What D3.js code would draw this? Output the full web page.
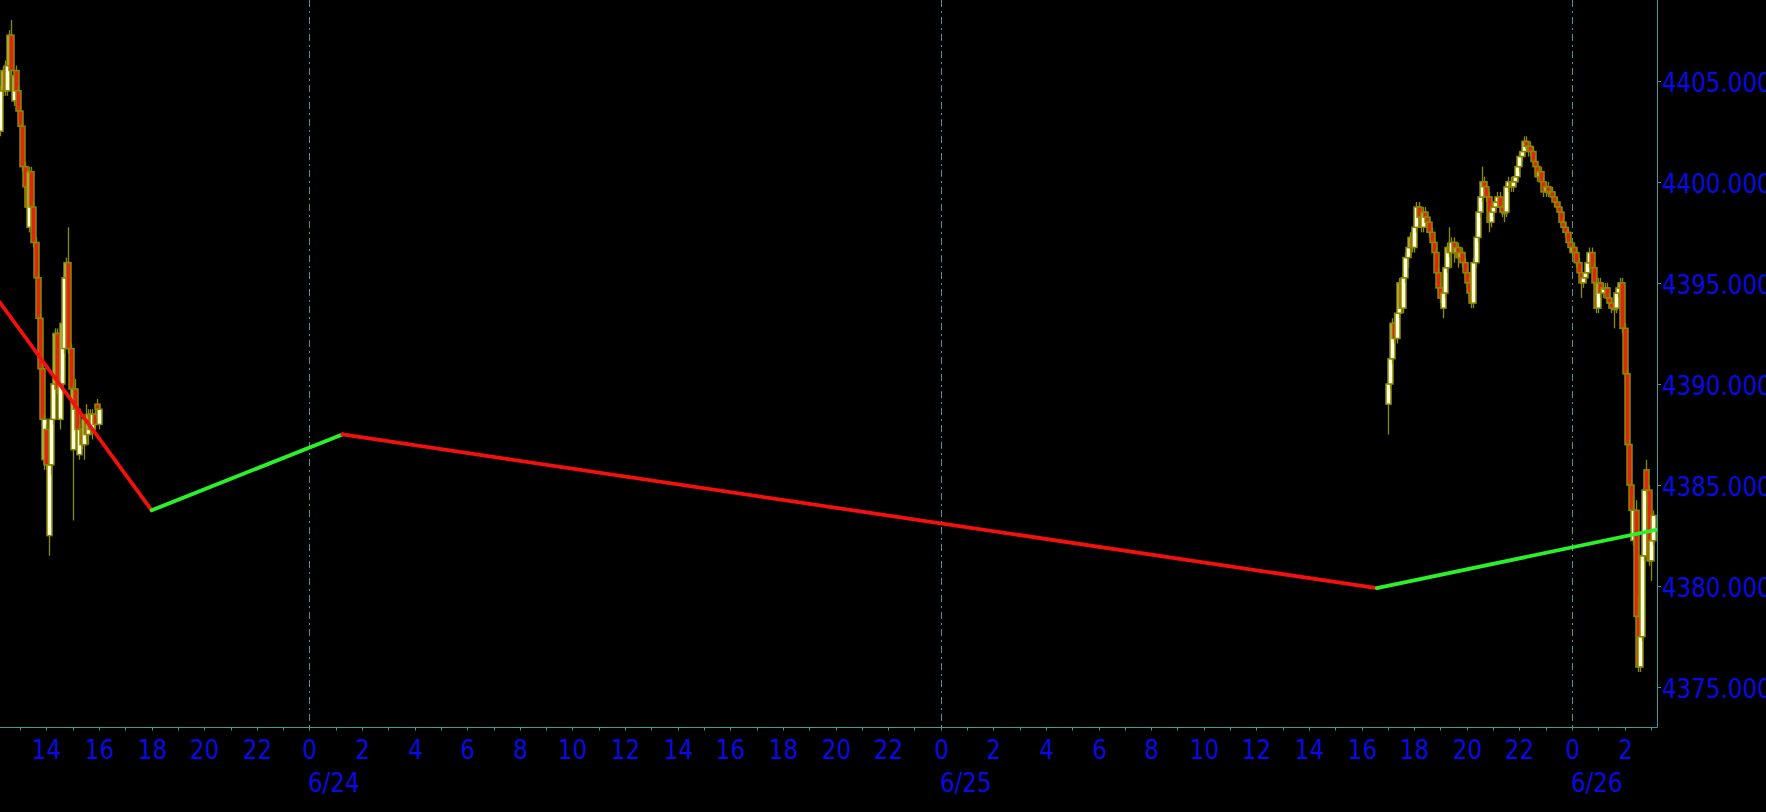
<!DOCTYPE html>
<html><head><meta charset="utf-8">
<script src="https://cdn.jsdelivr.net/npm/d3@7"></script>
<style>html,body{margin:0;padding:0;background:#000;overflow:hidden}</style>
</head><body>
<svg id="c" width="1766" height="812"></svg>
<script>
// ---- data ----
const session1Start = "2023-06-23T12:15:00Z";
const session2Start = "2023-06-25T17:00:00Z";
const barMinutes = 5;
// [open, high, low, close]
const session1 = [
[4402.50,4404.75,4402.25,4404.50],[4404.50,4405.75,4404.25,4405.50],[4405.50,4406.00,4404.25,4404.50],
[4404.50,4406.00,4404.25,4405.75],[4405.75,4407.50,4405.50,4407.25],[4407.25,4408.00,4405.25,4405.50],
[4404.00,4405.50,4403.75,4405.25],[4405.50,4405.75,4404.25,4404.50],[4404.50,4404.75,4403.25,4403.50],
[4403.50,4403.75,4402.50,4402.75],[4402.75,4403.00,4400.50,4400.75],[4400.75,4401.00,4399.50,4399.75],
[4399.75,4400.00,4398.50,4398.75],[4397.75,4400.75,4397.50,4400.50],[4400.50,4400.75,4398.50,4398.75],
[4398.75,4399.00,4396.75,4397.00],[4397.00,4397.25,4395.00,4395.25],[4395.25,4395.50,4393.00,4393.25],
[4393.25,4393.50,4390.50,4390.75],[4390.75,4391.00,4388.00,4388.25],[4386.25,4388.50,4385.75,4388.25],
[4387.75,4388.00,4385.75,4386.00],[4382.50,4386.25,4381.50,4386.00],[4386.00,4388.50,4385.50,4388.25],
[4388.25,4390.25,4388.00,4390.00],[4390.00,4392.75,4389.75,4392.50],[4392.50,4392.75,4389.50,4389.75],
[4388.25,4390.25,4387.75,4390.00],[4390.00,4393.25,4389.75,4393.00],[4391.75,4395.50,4391.50,4395.25],
[4395.25,4396.25,4394.75,4396.00],[4396.00,4397.75,4391.50,4391.75],[4391.75,4392.00,4389.50,4389.75],
[4386.75,4390.00,4383.25,4389.75],[4389.75,4390.25,4388.50,4388.75],[4388.75,4389.00,4387.50,4387.75],
[4386.50,4388.00,4386.25,4387.75],[4387.75,4388.25,4386.75,4387.00],[4387.00,4388.50,4386.25,4388.25],
[4388.25,4389.00,4387.25,4387.50],[4387.50,4388.75,4387.00,4388.50],[4388.50,4388.75,4387.50,4387.75],
[4387.75,4388.75,4387.25,4388.50],[4388.50,4388.75,4387.75,4388.00],[4389.00,4389.25,4388.50,4388.75],
[4388.00,4389.00,4387.75,4388.75]
];
const session2 = [
[4389.00,4390.50,4387.50,4390.00],[4390.00,4391.75,4389.75,4391.25],[4391.25,4393.25,4391.00,4393.00],
[4393.00,4393.50,4392.00,4392.25],[4392.25,4393.75,4392.00,4393.50],[4393.50,4395.25,4393.25,4395.00],
[4395.00,4395.25,4393.50,4393.75],[4393.75,4395.50,4393.50,4395.25],[4395.25,4396.50,4395.00,4396.25],
[4396.25,4397.00,4395.75,4396.75],[4396.75,4397.50,4396.25,4397.25],[4397.25,4397.50,4396.50,4396.75],
[4396.75,4398.00,4396.50,4397.75],[4397.75,4399.00,4397.50,4398.75],[4398.75,4399.00,4398.00,4398.25],
[4398.25,4398.50,4397.50,4397.75],[4397.75,4398.75,4397.50,4398.50],[4398.50,4398.75,4398.00,4398.25],
[4398.25,4398.50,4397.75,4398.00],[4398.00,4398.25,4397.25,4397.50],[4397.50,4397.75,4396.75,4397.00],
[4397.00,4397.25,4396.25,4396.50],[4396.50,4396.75,4395.25,4395.50],[4395.50,4395.75,4394.50,4394.75],
[4394.75,4395.00,4394.00,4394.25],[4393.75,4394.75,4393.25,4394.50],[4394.50,4396.00,4394.25,4395.75],
[4395.75,4397.00,4395.50,4396.75],[4396.75,4397.75,4396.25,4396.50],[4396.50,4397.25,4395.75,4397.00],
[4397.00,4397.25,4396.00,4396.50],[4396.50,4397.00,4396.25,4396.75],[4396.75,4397.00,4395.75,4396.25],
[4396.25,4396.75,4396.00,4396.50],[4396.50,4396.75,4395.75,4396.00],[4396.00,4396.25,4395.25,4395.50],
[4395.50,4395.75,4394.75,4395.00],[4395.00,4395.25,4394.25,4394.50],[4394.50,4394.75,4393.75,4394.00],
[4394.00,4396.25,4393.75,4396.00],[4396.00,4397.50,4395.75,4397.25],[4397.25,4398.75,4397.00,4398.50],
[4398.50,4399.50,4398.25,4399.25],[4399.25,4400.75,4399.00,4400.00],[4400.00,4400.25,4399.50,4399.75],
[4399.75,4400.00,4399.00,4399.25],[4399.25,4399.50,4397.50,4398.00],[4398.00,4398.75,4397.75,4398.50],
[4398.50,4399.00,4398.25,4398.75],[4398.75,4399.25,4398.50,4399.00],[4399.00,4399.50,4398.75,4399.25],
[4399.25,4399.50,4398.50,4398.75],[4398.75,4399.00,4398.25,4398.50],[4398.50,4398.75,4398.00,4398.50],
[4398.50,4400.00,4398.25,4399.75],[4399.75,4400.25,4399.50,4400.00],[4400.00,4400.25,4399.50,4399.75],
[4399.75,4400.25,4399.50,4400.00],[4400.00,4400.50,4399.75,4400.25],[4400.25,4401.00,4400.00,4400.75],
[4400.75,4401.50,4400.50,4401.25],[4401.25,4401.75,4401.00,4401.50],[4401.50,4402.25,4401.25,4402.00],
[4402.00,4402.25,4401.50,4401.75],[4401.75,4402.00,4401.25,4401.75],[4401.75,4402.00,4401.25,4401.50],
[4401.50,4401.75,4400.75,4401.00],[4401.00,4401.25,4400.50,4400.75],[4400.75,4401.00,4400.00,4400.25],
[4400.25,4400.75,4400.00,4400.50],[4400.50,4400.75,4399.75,4400.00],[4400.00,4400.25,4399.25,4399.50],
[4399.50,4400.00,4399.25,4399.75],[4399.75,4400.00,4399.25,4399.50],[4399.50,4399.75,4399.25,4399.50],
[4399.50,4399.75,4399.00,4399.25],[4399.25,4399.50,4398.75,4399.00],[4399.00,4399.25,4398.50,4398.75],
[4398.75,4399.00,4398.25,4398.50],[4398.50,4398.75,4397.75,4398.00],[4398.00,4398.25,4397.50,4397.75],
[4397.75,4398.00,4397.25,4397.50],[4397.50,4397.75,4396.75,4397.00],[4397.00,4397.25,4396.50,4396.75],
[4396.50,4397.00,4396.25,4396.75],[4396.75,4397.00,4396.25,4396.50],[4396.50,4396.75,4395.75,4396.00],
[4396.00,4396.25,4395.25,4395.50],[4395.50,4395.75,4394.25,4395.00],[4395.00,4395.50,4394.75,4395.25],
[4395.25,4395.75,4395.00,4395.50],[4395.50,4396.25,4395.25,4396.00],[4396.00,4396.75,4395.75,4396.50],
[4396.50,4396.75,4395.50,4395.75],[4395.75,4396.00,4394.75,4395.00],[4395.00,4395.25,4393.50,4393.75],
[4393.75,4395.25,4393.50,4395.00],[4395.00,4395.25,4394.25,4394.50],[4394.50,4395.00,4394.25,4394.75],
[4394.75,4395.00,4394.50,4394.75],[4394.75,4395.00,4394.00,4394.25],[4394.25,4394.50,4393.75,4394.00],
[4394.00,4394.25,4393.50,4393.75],[4393.75,4394.00,4392.75,4393.75],[4393.75,4394.75,4393.50,4394.50],
[4394.50,4395.00,4394.25,4394.75],[4394.75,4395.25,4394.50,4395.00],[4395.00,4395.25,4392.50,4392.75],
[4392.75,4393.00,4390.25,4390.50],[4390.50,4390.75,4386.75,4387.00],[4387.00,4387.25,4384.75,4385.00],
[4385.00,4385.25,4383.50,4383.75],[4382.25,4384.50,4382.00,4383.75],[4383.75,4384.25,4378.25,4378.50],
[4378.50,4379.50,4375.75,4376.00],[4376.00,4377.75,4375.75,4377.50],[4377.50,4381.75,4377.25,4381.50],
[4381.50,4385.00,4381.25,4384.75],[4385.75,4386.25,4384.50,4384.75],[4384.75,4385.00,4381.00,4381.25],
[4381.25,4382.50,4380.25,4382.25],[4382.25,4383.75,4382.00,4383.50]
];
const zigzagTimes = ["2023-06-23T10:00:00Z","2023-06-23T18:00:00Z","2023-06-24T01:15:00Z","2023-06-25T16:35:00Z","2023-06-26T03:15:00Z"];
const zigzagValues = [4398.00, 4383.75, 4387.50, 4379.90, 4382.80];
const priceTicks = [4375, 4380, 4385, 4390, 4395, 4400, 4405];
const dayLabels = ["6/24", "6/25", "6/26"];

// ---- layout / style ----
const W = 1766, H = 812, plotR = 1657, plotB = 727;
const axisColor = "#3c9a9a", textColor = "#0a0ae6";
const olive = "#8a8a00", upFill = "#ffffe0", downFill = "#e42412";
const fontFam = "'DejaVu Sans',Verdana,sans-serif";

const svg = d3.select("#c");
svg.append("rect").attr("width", W).attr("height", H).attr("fill", "#000");

const x = d3.scaleUtc()
  .domain([new Date(Date.UTC(2023,5,23,12,14)), new Date(Date.UTC(2023,5,26,3,14))])
  .range([0, plotR]);
const y = d3.scaleLinear().domain([4375, 4405]).range([687.2, 80.7]);

svg.append("clipPath").attr("id","clip").append("rect")
  .attr("x",0).attr("y",0).attr("width",plotR).attr("height",plotB);

// day separator lines
const days = dayLabels.map((d,i)=> new Date(Date.UTC(2023,5,24+i)));
svg.append("g").selectAll("line").data(days).join("line")
  .attr("x1", d=>Math.round(x(d))+0.5).attr("x2", d=>Math.round(x(d))+0.5)
  .attr("y1", 0).attr("y2", plotB)
  .attr("stroke", axisColor).attr("stroke-width",1)
  .attr("stroke-dasharray","7,4,2,4");

// candles
function bars(start, rows){
  const t0 = new Date(start).getTime();
  return rows.map((r,i)=>({t:new Date(t0 + i*barMinutes*60000), o:r[0], h:r[1], l:r[2], c:r[3]}));
}
const allBars = bars(session1Start, session1).concat(bars(session2Start, session2));
const cg = svg.append("g").attr("clip-path","url(#clip)");
allBars.forEach(b=>{
  const cx = Math.round(x(b.t));
  cg.append("line").attr("x1",cx+0.5).attr("x2",cx+0.5)
    .attr("y1",y(b.h)).attr("y2",y(b.l)).attr("stroke",olive).attr("stroke-width",1.3);
  const top = y(Math.max(b.o,b.c)), bot = y(Math.min(b.o,b.c));
  cg.append("rect").attr("x",cx-2).attr("y",top).attr("width",5)
    .attr("height",Math.max(1.5,bot-top))
    .attr("fill", b.c>=b.o ? upFill : downFill)
    .attr("stroke",olive).attr("stroke-width",1.5);
});

// zigzag
const zz = zigzagTimes.map((t,i)=>({t:new Date(t), v:zigzagValues[i]}));
const zg = svg.append("g").attr("clip-path","url(#clip)");
for(let i=1;i<zz.length;i++){
  const a = zz[i-1], b = zz[i];
  zg.append("line").attr("x1",x(a.t)).attr("y1",y(a.v)).attr("x2",x(b.t)).attr("y2",y(b.v))
    .attr("stroke", b.v < a.v ? "#f51010" : "#2af22a").attr("stroke-width",3.8)
    .attr("stroke-linecap","round");
}

// axes lines
svg.append("line").attr("x1",0).attr("x2",plotR+0.5).attr("y1",plotB+0.5).attr("y2",plotB+0.5)
  .attr("stroke",axisColor);
svg.append("line").attr("x1",plotR+0.5).attr("x2",plotR+0.5).attr("y1",0).attr("y2",plotB+0.5)
  .attr("stroke",axisColor);

function label(px, py, txt, anchor){
  svg.append("text").attr("transform",`translate(${px},${py}) scale(1,1.18)`)
    .attr("text-anchor",anchor).attr("fill",textColor)
    .attr("font-family",fontFam).attr("font-size",23).text(txt);
}

// x ticks + labels
const hours = x.ticks(d3.utcHour.every(1));
hours.forEach(h=>{
  const px = Math.round(x(h))+0.5;
  if (px > plotR) return;
  svg.append("line").attr("x1",px).attr("x2",px).attr("y1",plotB).attr("y2",plotB+3.5)
    .attr("stroke",axisColor);
  if (h.getUTCHours() % 2 === 0 && px > 8) label(px, 758.5, String(h.getUTCHours()), "middle");
});
days.forEach((d,i)=> label(Math.round(x(d))-1, 791.5, dayLabels[i], "start"));

// y ticks + labels
priceTicks.forEach(v=>{
  const py = Math.round(y(v))+0.5;
  svg.append("line").attr("x1",plotR).attr("x2",plotR+4).attr("y1",py).attr("y2",py).attr("stroke",axisColor);
  label(plotR+5, py+10, v.toFixed(3), "start");
});
</script>
</body></html>
